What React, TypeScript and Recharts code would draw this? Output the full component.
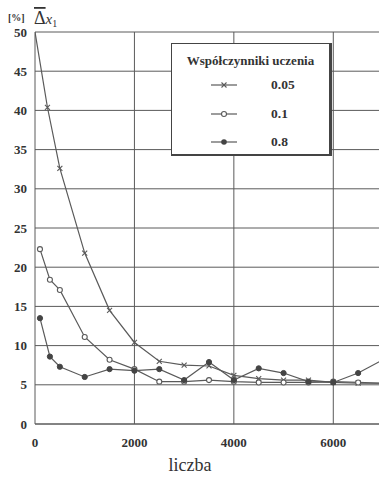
import React from 'react';
import { LineChart, Line, XAxis, YAxis, CartesianGrid, Customized } from 'recharts';

const SERIES_NAMES = ['0.05', '0.1', '0.8'];

const X_005 = [0, 250, 500, 1000, 1500, 2000, 2500, 3000, 3500, 4000, 4500, 5000, 5500, 6000, 6500, 7000];
const Y_005 = [50, 40.4, 32.6, 21.8, 14.5, 10.4, 8.0, 7.5, 7.4, 6.2, 5.8, 5.6, 5.6, 5.3, 5.2, 5.2];

const X_01 = [100, 300, 500, 1000, 1500, 2000, 2500, 3000, 3500, 4000, 4500, 5000, 5500, 6000, 6500, 7000];
const Y_01 = [22.3, 18.4, 17.1, 11.1, 8.2, 7.0, 5.4, 5.4, 5.6, 5.4, 5.3, 5.3, 5.3, 5.4, 5.3, 5.2];

const X_08 = [100, 300, 500, 1000, 1500, 2000, 2500, 3000, 3500, 4000, 4500, 5000, 5500, 6000, 6500, 7000];
const Y_08 = [13.5, 8.6, 7.3, 6.0, 7.0, 6.8, 7.0, 5.6, 7.9, 5.6, 7.1, 6.5, 5.4, 5.3, 6.5, 8.2];

const X_TICKS = [0, 2000, 4000, 6000];
const MINOR_TICKS = [500, 1000, 1500, 2500, 3000, 3500, 4500, 5000, 5500, 6500];
const Y_TICKS = [0, 5, 10, 15, 20, 25, 30, 35, 40, 45, 50];

const toPoints = (xs: number[], ys: number[]) => xs.map((x, i) => ({ x, y: ys[i] }));

const d005 = toPoints(X_005, Y_005);
const d01 = toPoints(X_01, Y_01);
const d08 = toPoints(X_08, Y_08);

const INK = '#5a5a5a';
const FONT = '"Liberation Serif", "DejaVu Serif", serif';

const CrossDot = (props: any) => {
  const { cx, cy, index } = props;
  if (index === 0 || cx == null) return <g key={`c-${index}`} />;
  return (
    <g key={`c-${index}`} stroke={INK} strokeWidth={1.1}>
      <line x1={cx - 2.5} y1={cy - 2.5} x2={cx + 2.5} y2={cy + 2.5} />
      <line x1={cx - 2.5} y1={cy + 2.5} x2={cx + 2.5} y2={cy - 2.5} />
    </g>
  );
};

const OpenDot = (props: any) => {
  const { cx, cy, index } = props;
  return <circle key={`o-${index}`} cx={cx} cy={cy} r={2.5} fill="#fff" stroke={INK} strokeWidth={1.1} />;
};

const FilledDot = (props: any) => {
  const { cx, cy, index } = props;
  return <circle key={`f-${index}`} cx={cx} cy={cy} r={2.6} fill="#444" stroke="#444" />;
};

// small upward ticks inside the plot along the bottom edge
const MinorTick = (props: any) => {
  const { x, index, payload } = props;
  const tall = payload && payload.value % 1000 === 0;
  return <line key={`m-${index}`} x1={x} x2={x} y1={424} y2={tall ? 416 : 419} stroke="#999" strokeWidth={1} />;
};

const legendMarker = (kind: number) => (
  <svg width={30} height={10} style={{ verticalAlign: 'middle' }}>
    <line x1={2} y1={5} x2={28} y2={5} stroke={INK} strokeWidth={1.2} />
    {kind === 0 && (
      <g stroke={INK} strokeWidth={1.1}>
        <line x1={12.5} y1={2.5} x2={17.5} y2={7.5} />
        <line x1={12.5} y1={7.5} x2={17.5} y2={2.5} />
      </g>
    )}
    {kind === 1 && <circle cx={15} cy={5} r={2.5} fill="#fff" stroke={INK} strokeWidth={1.1} />}
    {kind === 2 && <circle cx={15} cy={5} r={2.8} fill="#444" />}
  </svg>
);

const LegendBox = () => (
  <div
    style={{
      position: 'absolute',
      left: 171,
      top: 43,
      width: 161,
      height: 113,
      border: '1px solid #444',
      borderRightWidth: 3,
      borderBottomWidth: 2,
      background: '#fff',
      fontFamily: FONT,
      color: '#333',
      boxSizing: 'border-box',
    }}
  >
    <div style={{ textAlign: 'center', fontSize: 13, fontWeight: 'bold', marginTop: 9 }}>
      Współczynniki uczenia
    </div>
    {SERIES_NAMES.map((n, i) => (
      <div key={n} style={{ display: 'flex', alignItems: 'center', height: 28.5, marginTop: i === 0 ? 2 : 0 }}>
        <div style={{ width: 37 }} />
        {legendMarker(i)}
        <div style={{ width: 32 }} />
        <span style={{ fontSize: 13.5, fontWeight: 'bold' }}>{n}</span>
      </div>
    ))}
  </div>
);

const AxisTitle = () => (
  <g fontFamily={FONT} fill="#333">
    <text x={8} y={21} fontSize={10} fontWeight="bold">[%]</text>
    <text x={34} y={24} fontSize={18}>
      <tspan style={{ textDecoration: 'overline' }}>Δ</tspan>
      <tspan fontStyle="italic" fontSize={15}>x</tspan>
      <tspan fontSize={10} dy={3}>1</tspan>
    </text>
    <text x={190} y={471} fontSize={18} textAnchor="middle">liczba</text>
  </g>
);

const tickStyle = { fontFamily: FONT, fontSize: 13, fontWeight: 'bold', fill: '#333' } as const;

export default function App() {
  return (
    <div style={{ position: 'absolute', left: 0, top: 0, width: 379, height: 477, overflow: 'hidden', background: '#fff' }}>
      <LineChart width={392} height={477} margin={{ top: 32, right: 9, bottom: 23, left: 0 }}>
        <CartesianGrid stroke={INK} strokeWidth={1} horizontalValues={Y_TICKS} verticalValues={[2000, 4000, 6000]} />
        <XAxis
          type="number"
          dataKey="x"
          domain={[0, 7000]}
          ticks={X_TICKS}
          tick={tickStyle}
          tickLine={false}
          tickSize={0}
          tickMargin={14}
          axisLine={{ stroke: INK }}
          height={30}
          allowDataOverflow
        />
        <XAxis
          xAxisId="minor"
          type="number"
          dataKey="x"
          domain={[0, 7000]}
          ticks={MINOR_TICKS}
          tick={MinorTick}
          tickLine={false}
          axisLine={false}
          height={0}
        />
        <YAxis
          type="number"
          domain={[0, 50]}
          ticks={Y_TICKS}
          tick={tickStyle}
          tickLine={false}
          tickSize={0}
          tickMargin={8}
          axisLine={{ stroke: INK }}
          width={35}
          allowDataOverflow
        />
        <Line data={d005} dataKey="y" name={SERIES_NAMES[0]} stroke={INK} strokeWidth={1.2} dot={CrossDot} isAnimationActive={false} />
        <Line data={d01} dataKey="y" name={SERIES_NAMES[1]} stroke={INK} strokeWidth={1.2} dot={OpenDot} isAnimationActive={false} />
        <Line data={d08} dataKey="y" name={SERIES_NAMES[2]} stroke={INK} strokeWidth={1.2} dot={FilledDot} isAnimationActive={false} />
        <Customized component={AxisTitle} />
      </LineChart>
      <LegendBox />
    </div>
  );
}
